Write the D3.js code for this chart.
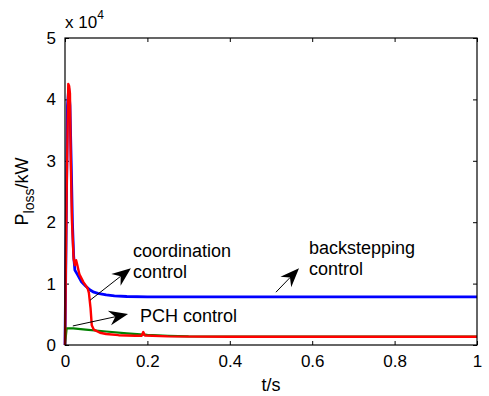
<!DOCTYPE html>
<html>
<head>
<meta charset="utf-8">
<script src="https://cdn.jsdelivr.net/npm/d3@7"></script>
<style>
  body { margin: 0; background: #fff; }
  text { font-family: Arial, "Liberation Sans", sans-serif; fill: #000; }
</style>
</head>
<body>
<script>
// Chart Params
var svgWidth = 489;
var svgHeight = 396;
var margin = { top: 38, right: 12, bottom: 51, left: 65 };
var width = svgWidth - margin.left - margin.right;
var height = svgHeight - margin.top - margin.bottom;

// data (P in units of 10^4 kW)
var xTicks = [0, 0.2, 0.4, 0.6, 0.8, 1];
var yTicks = [0, 1, 2, 3, 4, 5];

var backT = [0, 0.003, 0.006, 0.009, 0.012, 0.015, 0.018, 0.021, 0.024, 0.03, 0.04, 0.05, 0.06, 0.07, 0.08, 0.1, 0.12, 0.15, 0.2, 0.3, 0.5, 0.7, 1.0];
var backP = [0, 2.0, 3.9, 4.18, 3.9, 3.0, 2.0, 1.45, 1.22, 1.15, 1.03, 0.96, 0.9, 0.86, 0.84, 0.815, 0.8, 0.79, 0.785, 0.785, 0.785, 0.785, 0.785];

var pchT = [0, 0.004, 0.02, 0.05, 0.1, 0.15, 0.2, 0.25, 0.3, 1.0];
var pchP = [0, 0.27, 0.27, 0.25, 0.22, 0.19, 0.165, 0.15, 0.14, 0.135];

var coordT = [0, 0.004, 0.008, 0.010, 0.012, 0.014, 0.017, 0.021, 0.024, 0.027, 0.030, 0.035, 0.045, 0.055, 0.058, 0.062, 0.065, 0.070, 0.085, 0.10, 0.13, 0.17, 0.186, 0.19, 0.194, 0.25, 0.4, 1.0];
var coordP = [0, 2.5, 4.25, 4.22, 4.1, 3.0, 2.0, 1.4, 1.3, 1.38, 1.3, 1.15, 1.02, 0.92, 0.85, 0.6, 0.32, 0.25, 0.2, 0.18, 0.16, 0.15, 0.15, 0.21, 0.155, 0.14, 0.135, 0.135];

// annotations: arrow start, arrow tip (data units)
var arrows = [
  { x1: 0.061, y1: 0.73, x2: 0.160, y2: 1.25 },
  { x1: 0.019, y1: 0.31, x2: 0.153, y2: 0.505 },
  { x1: 0.512, y1: 0.86, x2: 0.568, y2: 1.25 }
];
var labels = [
  { t: 0.165, p: 1.43, text: "coordination" },
  { t: 0.165, p: 1.09, text: "control" },
  { t: 0.182, p: 0.375, text: "PCH control" },
  { t: 0.592, p: 1.48, text: "backstepping" },
  { t: 0.592, p: 1.14, text: "control" }
];

var svg = d3.select("body")
  .append("svg")
  .attr("width", svgWidth)
  .attr("height", svgHeight);

var chartGroup = svg.append("g")
  .attr("transform", `translate(${margin.left}, ${margin.top})`);

var xScale = d3.scaleLinear().domain([0, 1]).range([0, width]);
var yScale = d3.scaleLinear().domain([0, 5]).range([height, 0]);

// axes, MATLAB style: ticks inward on all four sides
var bottomAxis = d3.axisBottom(xScale).tickValues(xTicks).tickSize(-4).tickPadding(10).tickFormat(d3.format("~g"));
var topAxis = d3.axisTop(xScale).tickValues(xTicks).tickSize(-4).tickFormat("");
var leftAxis = d3.axisLeft(yScale).tickValues(yTicks).tickSize(-4).tickPadding(9).tickFormat(d3.format("d"));
var rightAxis = d3.axisRight(yScale).tickValues(yTicks).tickSize(-4).tickFormat("");

function styleAxis(g) {
  g.select(".domain").remove();
  g.selectAll(".tick line").attr("stroke", "#000");
  g.selectAll(".tick text").attr("font-size", "17px").attr("fill", "#000");
}

chartGroup.append("g").attr("transform", `translate(0, ${height})`).call(bottomAxis).call(styleAxis);
chartGroup.append("g").call(topAxis).call(styleAxis);
chartGroup.append("g").call(leftAxis).call(styleAxis);
chartGroup.append("g").attr("transform", `translate(${width}, 0)`).call(rightAxis).call(styleAxis);

var line = d3.line()
  .x(d => xScale(d[0]))
  .y(d => yScale(d[1]));

function drawSeries(ts, ps, color, w) {
  chartGroup.append("path")
    .datum(d3.zip(ts, ps))
    .attr("d", line)
    .attr("fill", "none")
    .attr("stroke", color)
    .attr("stroke-width", w)
    .attr("stroke-linejoin", "round");
}

drawSeries(backT, backP, "#0000ff", 2.8);
drawSeries(pchT, pchP, "#008000", 2.2);
drawSeries(coordT, coordP, "#ff0000", 2.4);

// box
chartGroup.append("rect")
  .attr("width", width)
  .attr("height", height)
  .attr("fill", "none")
  .attr("stroke", "#000")
  .attr("stroke-width", 1.2);

// arrows
arrows.forEach(function(a) {
  var x1 = xScale(a.x1), y1 = yScale(a.y1), x2 = xScale(a.x2), y2 = yScale(a.y2);
  var ang = Math.atan2(y2 - y1, x2 - x1);
  var L = 19, W = 7.5, N = 13;
  var ux = Math.cos(ang), uy = Math.sin(ang);
  var px = -uy, py = ux;
  var bx = x2 - ux * L, by = y2 - uy * L;
  var nx = x2 - ux * N, ny = y2 - uy * N;
  chartGroup.append("line")
    .attr("x1", x1).attr("y1", y1)
    .attr("x2", nx).attr("y2", ny)
    .attr("stroke", "#000")
    .attr("stroke-width", 1);
  chartGroup.append("path")
    .attr("d", `M${x2},${y2}L${bx + px * W},${by + py * W}L${nx},${ny}L${bx - px * W},${by - py * W}Z`)
    .attr("fill", "#000");
});

chartGroup.selectAll(".anno")
  .data(labels)
  .enter()
  .append("text")
  .attr("class", "anno")
  .attr("x", d => xScale(d.t))
  .attr("y", d => yScale(d.p))
  .attr("font-size", "18px")
  .text(d => d.text);

// exponent label
var expo = svg.append("text")
  .attr("x", margin.left)
  .attr("y", 28)
  .attr("font-size", "17px");
expo.append("tspan").text("x 10");
expo.append("tspan").attr("font-size", "12px").attr("dy", -9).text("4");

// x label
svg.append("text")
  .attr("x", margin.left + width / 2)
  .attr("y", 391)
  .attr("text-anchor", "middle")
  .attr("font-size", "18px")
  .text("t/s");

// y label
var ylab = svg.append("text")
  .attr("transform", `translate(28, ${margin.top + height / 2}) rotate(-90)`)
  .attr("text-anchor", "middle")
  .attr("font-size", "18px");
ylab.append("tspan").text("P");
ylab.append("tspan").attr("font-size", "14px").attr("dy", 6).text("loss");
ylab.append("tspan").attr("dy", -6).text("/kW");
</script>
</body>
</html>
